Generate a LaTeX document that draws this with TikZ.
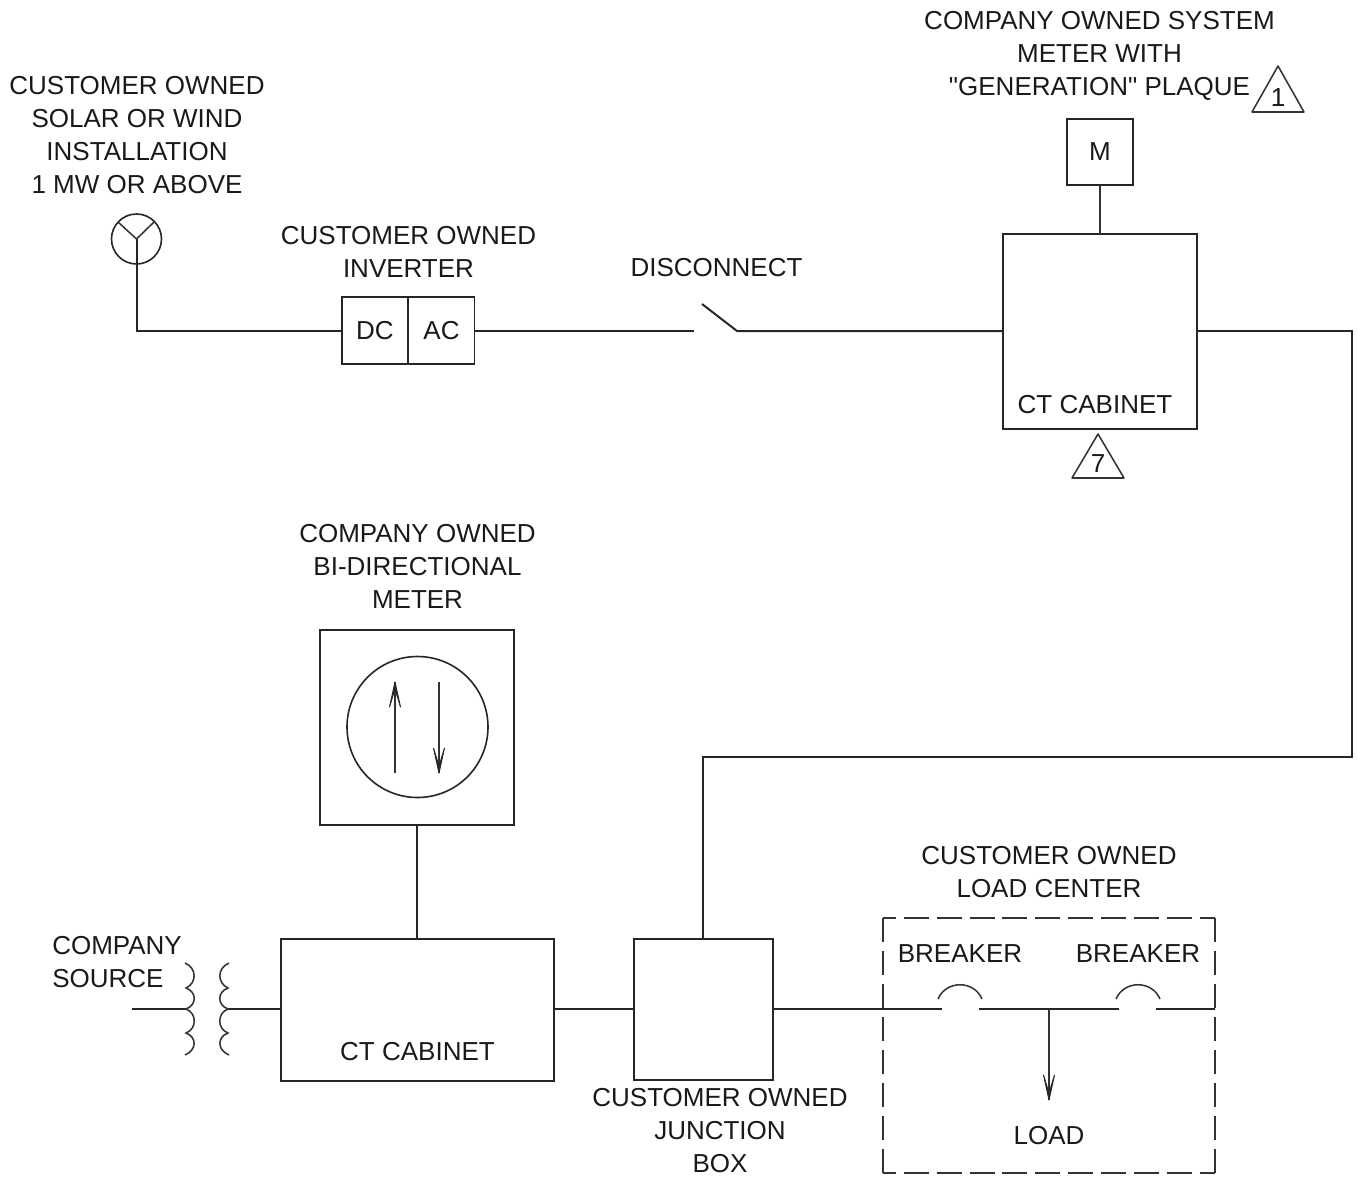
\documentclass[tikz,border=0pt]{standalone}
\usepackage{fontspec}
\setmainfont{Liberation Sans}[Ligatures=TeXOff]
\tikzset{
  wire/.style={line width=1.5pt,draw=black!85,line join=miter},
  thin wire/.style={line width=1.15pt,draw=black!80},
  box/.style={draw=black!85,line width=1.4pt,rectangle,inner sep=0pt,outer sep=0pt,font=\fontsize{19.5}{24.75}\selectfont,text=black!90},
  lbl/.style={align=center,inner sep=0pt,font=\fontsize{19.5}{24.75}\selectfont,text=black!90},
  barbhead/.style={fill=black!85,draw=black!85,line width=0.7pt,line join=round},
  vdash/.style={draw=black!80,line width=1.4pt,dash pattern=on 18pt off 6.75pt},
  hdash/.style={draw=black!80,line width=1.4pt,dash pattern=on 18.75pt off 5.9pt,dash phase=9pt},
}
\begin{document}
\begin{tikzpicture}[x=0.75pt,y=-0.75pt]
\useasboundingbox (0,0) rectangle (1357,1178);
% labels
\node[lbl] (lsolar) at (137,135) {CUSTOMER OWNED\\SOLAR OR WIND\\INSTALLATION\\1 MW OR ABOVE};
\node[lbl] (linv) at (408.5,252) {CUSTOMER OWNED\\INVERTER};
\node[lbl] (ldisc) at (716.5,268) {DISCONNECT};
\node[lbl] (lsys) at (1099.5,56) {COMPANY OWNED SYSTEM\\METER WITH\\"GENERATION" PLAQUE};
\node[lbl] (lbi) at (417.5,566.5) {COMPANY OWNED\\BI-DIRECTIONAL\\METER};
\node[lbl,align=left,anchor=west] (lsrc) at (52,962.5) {COMPANY\\SOURCE};
\node[lbl] (ljb) at (720,1131) {CUSTOMER OWNED\\JUNCTION\\BOX};
\node[lbl] (lload) at (1049,872) {CUSTOMER OWNED\\LOAD CENTER};
\node[lbl] (lbr1) at (960,954) {BREAKER};
\node[lbl] (lbr2) at (1138,954) {BREAKER};
\node[lbl] (lld) at (1049,1136) {LOAD};
\node[lbl] (lct1) at (1095,405) {CT CABINET};
\node[lbl] (lct2) at (417.5,1052) {CT CABINET};
% boxes
\node[box,minimum width=49.5pt,minimum height=49.5pt] (m) at (1100,152) {M};
\node[box,minimum width=145.5pt,minimum height=146.25pt] (ct1) at (1100,331.5) {};
\node[box,minimum width=49.5pt,minimum height=50.25pt] (dc) at (375,330.5) {DC};
\node[box,minimum width=49.5pt,minimum height=50.25pt] (ac) at (441.5,330.5) {AC};
\node[box,minimum width=145.5pt,minimum height=146.25pt] (bi) at (417,727.5) {};
\node[draw=black!85,line width=1.2pt,circle,minimum size=105.75pt,inner sep=0pt,outer sep=0pt] (dial) at (417.5,727) {};
\node[box,minimum width=205pt,minimum height=106.5pt] (ct2) at (417.5,1010) {};
\node[box,minimum width=104.25pt,minimum height=105.75pt] (jb) at (703.5,1009.5) {};
\node[draw=black!85,line width=1.2pt,circle,minimum size=37.5pt,inner sep=0pt,outer sep=0pt] (solar) at (136.5,239) {};
% coordinates
\coordinate (sa) at (118,222);
\coordinate (sb) at (154,222);
\coordinate (sw1) at (694,331);
\coordinate (sw2) at (702,304);
\coordinate (sw3) at (737,331);
\coordinate (e1) at (1352,331);
\coordinate (e2) at (1352,757);
\coordinate (e3) at (703,757);
\coordinate (e4) at (703,939);
\coordinate (src) at (132,1009);
\coordinate (cl) at (186,1009);
\coordinate (cr) at (228,1009);
\coordinate (b1a) at (942,1009);
\coordinate (b1b) at (979,1009);
\coordinate (b2a) at (1119,1009);
\coordinate (b2b) at (1156,1009);
\coordinate (bend) at (1215,1009);
\coordinate (tee) at (1049,1009);
\coordinate (tip) at (1049,1100);
\coordinate (up1) at (395,773);
\coordinate (up2) at (395,682);
\coordinate (dn1) at (439,682);
\coordinate (dn2) at (439,773);
% wires
\draw[wire] (solar.center) |- (sw1 -| dc.west);
\draw[thin wire] (sa) -- (solar.center) -- (sb);
\draw[wire] (sw1 -| ac.east) -- (sw1);
\draw[wire] (sw2) -- (sw3) -- (sw3 -| ct1.west);
\draw[thin wire] (m.south) -- (ct1.north);
\draw[wire] (e1 -| ct1.east) -- (e1) -- (e2) -- (e3) -- (e4);
\draw[wire] (bi.south) -- (bi.south |- ct2.north);
\draw[wire] (src) -- (cl);
\draw[wire] (cr) -- (cr -| ct2.west);
\draw[wire] (src -| ct2.east) -- (src -| jb.west);
\draw[wire] (src -| jb.east) -- (b1a);
\draw[wire] (b1b) -- (b2a);
\draw[wire] (b2b) -- (bend);
% arrows
\draw[thin wire] (tee) -- (tip);
\draw[barbhead] (tip) -- ++(5.5,-25) -- ++(-5.5,18) -- ++(-5.5,-18) -- cycle;
\draw[thin wire] (up1) -- (up2);
\draw[barbhead] (up2) -- ++(5.5,25) -- ++(-5.5,-18) -- ++(-5.5,18) -- cycle;
\draw[thin wire] (dn1) -- (dn2);
\draw[barbhead] (dn2) -- ++(5.5,-25) -- ++(-5.5,18) -- ++(-5.5,-18) -- cycle;
% transformer coils
\draw[thin wire] (185,963) .. controls (197,968) and (197,983) .. (186,988)
  .. controls (197,992) and (197,1005) .. (186,1009)
  .. controls (197,1013) and (197,1029) .. (186,1033)
  .. controls (197,1037) and (197,1050) .. (185,1055);
\draw[thin wire] (229,963) .. controls (217,968) and (217,983) .. (228,988)
  .. controls (217,992) and (217,1005) .. (228,1009)
  .. controls (217,1013) and (217,1029) .. (228,1033)
  .. controls (217,1037) and (217,1050) .. (229,1055);
% breakers
\draw[thin wire] (938,999) .. controls (946,980) and (974,980) .. (982,999);
\draw[thin wire] (1116,999) .. controls (1124,980) and (1152,980) .. (1160,999);
% load centre
\draw[vdash] (883,918) -- (883,1173);
\draw[vdash] (1215,918) -- (1215,1173);
\draw[hdash] (883,918) -- (1215,918);
\draw[hdash] (883,1173) -- (1215,1173);
% triangles
\node[lbl] (t1) at (1278,98) {1};
\draw[thin wire,line join=round] (1278,66) -- (1304,112) -- (1252,112) -- cycle;
\node[lbl] (t7) at (1098,464) {7};
\draw[thin wire,line join=round] (1098,434) -- (1124,478) -- (1072,478) -- cycle;
\end{tikzpicture}
\end{document}
